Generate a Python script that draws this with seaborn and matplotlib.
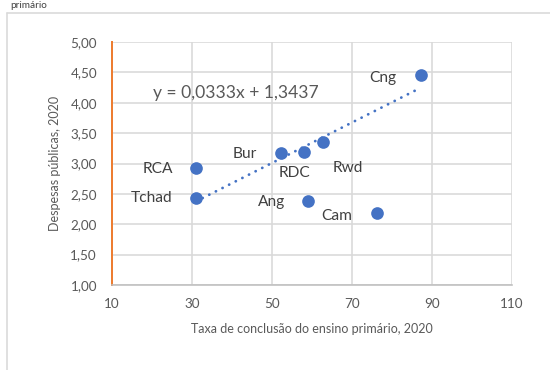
import numpy as np
import pandas as pd
import matplotlib
matplotlib.use("Agg")
import matplotlib.pyplot as plt
from matplotlib.lines import Line2D
import seaborn as sns

# ---- data ----
countries = ["RCA", "Tchad", "Bur", "RDC", "Rwd", "Ang", "Cam", "Cng"]
completion = [31.0, 31.0, 52.25, 58.1, 62.75, 59.1, 76.25, 87.25]
spending = [2.92, 2.43, 3.18, 3.19, 3.35, 2.39, 2.19, 4.46]
trend_slope = 0.0333
trend_intercept = 1.3437
x_ticks = [10, 30, 50, 70, 90, 110]
y_ticks = [1.00, 1.50, 2.00, 2.50, 3.00, 3.50, 4.00, 4.50, 5.00]
equation_label = "y = 0,0333x + 1,3437"
x_title = "Taxa de conclusão do ensino primário, 2020"
y_title = "Despesas públicas, 2020"

# label offsets in points (dx, dy)
label_offsets = {
    "RCA": (-38, -1), "Tchad": (-44, 0), "Bur": (-36, -1), "RDC": (-10, -21),
    "Rwd": (25, -26), "Ang": (-37, -1), "Cam": (-40, -3), "Cng": (-38, -3),
}

df = pd.DataFrame({"country": countries, "x": completion, "y": spending})

sns.set_style("white")
plt.rcParams["font.family"] = ["Lato", "DejaVu Sans"]

DPI = 72
fig = plt.figure(figsize=(550 / DPI, 370 / DPI), dpi=DPI)
ax = fig.add_axes([112 / 550, 1 - 285 / 370, 400 / 550, 243 / 370])

grid_c = "#d9d9d9"
txt_c = "#595959"
blue = "#4472C4"

# trendline
xs = np.array([min(completion), max(completion)])
ax.plot(xs, trend_slope * xs + trend_intercept, linestyle=(0, (0.05, 2.6)),
        color=blue, lw=2.8, dash_capstyle="round", solid_capstyle="round",
        zorder=3)

sns.scatterplot(data=df, x="x", y="y", ax=ax, s=160, color=blue,
                edgecolor=blue, linewidth=0, zorder=4, legend=False)

for c, xv, yv in zip(countries, completion, spending):
    dx, dy = label_offsets[c]
    ax.annotate(c, (xv, yv), xytext=(dx, dy), textcoords="offset points",
                ha="center", va="center", fontsize=15.5, color="#404040")

ax.text(0.1025, 0.789, equation_label, transform=ax.transAxes, ha="left",
        va="center", fontsize=17.5, color=txt_c)

ax.set_xlim(10, 110)
ax.set_ylim(1, 5)
ax.set_xticks(x_ticks)
ax.set_yticks(y_ticks)
ax.set_xticklabels([str(v) for v in x_ticks])
ax.set_yticklabels([f"{v:.2f}".replace(".", ",") for v in y_ticks])
ax.tick_params(axis="both", length=0, labelsize=13.5, labelcolor=txt_c)
ax.tick_params(axis="y", pad=15)
ax.tick_params(axis="x", pad=13)

ax.grid(True, color=grid_c, lw=1.6)
ax.set_axisbelow(True)
for s in ["top", "right"]:
    ax.spines[s].set_visible(False)
ax.spines["bottom"].set_color("#bfbfbf")
ax.spines["bottom"].set_linewidth(1.6)
ax.spines["left"].set_color("#ED7D31")
ax.spines["left"].set_linewidth(2)

ax.set_xlabel(x_title, fontsize=12.5, color=txt_c, labelpad=13)
ax.set_ylabel(y_title, fontsize=12.5, color=txt_c, labelpad=9)

# chart box borders (partial, as in screenshot)
fig.add_artist(Line2D([7 / 550, 1], [1 - 13 / 370, 1 - 13 / 370],
                      transform=fig.transFigure, color=grid_c, lw=1.6))
fig.add_artist(Line2D([7 / 550, 7 / 550], [0, 1 - 13 / 370],
                      transform=fig.transFigure, color=grid_c, lw=1.6))
# title fragment at top
fig.text(10 / 550, 1 - 1 / 370, "primário", fontsize=10, color="#404040",
         ha="left", va="top")

fig.savefig("out.png", dpi=DPI, facecolor="white")
